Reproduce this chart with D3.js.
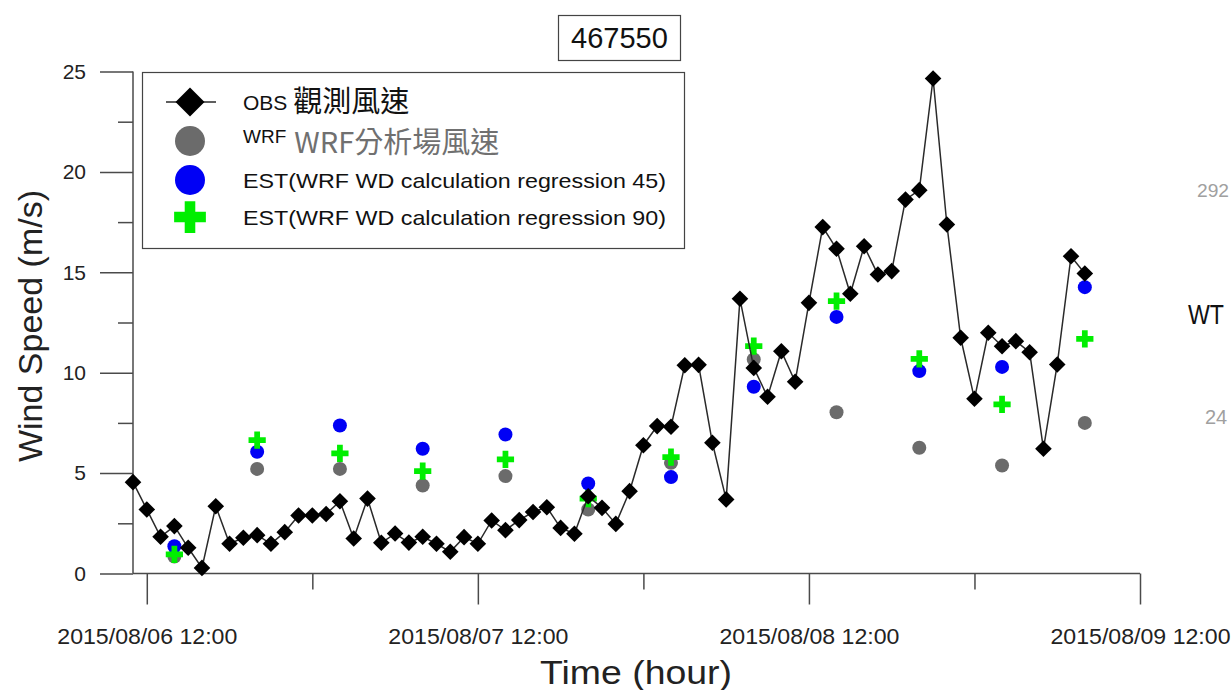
<!DOCTYPE html>
<html>
<head>
<meta charset="utf-8">
<script src="https://cdn.jsdelivr.net/npm/d3@7"></script>
<style>
  html, body { margin: 0; padding: 0; background: #fff; overflow: hidden; }
  svg { display: block; }
</style>
</head>
<body>
<svg id="chart" width="1231" height="690"></svg>
<script>
// Station 467550 — hourly observed wind speed and 6-hourly model estimates
const stationId = "467550";
const obsStart = new Date(2015, 7, 6, 11); // first hourly observation
const obsValues = [
  4.55, 3.19, 1.83, 2.36, 1.28, 0.28, 3.35, 1.48, 1.78, 1.91,
  1.48, 2.06, 2.89, 2.89, 2.96, 3.60, 1.74, 3.73, 1.53, 1.99,
  1.54, 1.83, 1.48, 1.08, 1.81, 1.48, 2.64, 2.16, 2.66, 3.06,
  3.30, 2.27, 1.98, 3.85, 3.27, 2.47, 4.10, 6.39, 7.34, 7.31,
  10.37, 10.39, 6.51, 3.69, 13.68, 10.24, 8.80, 11.07, 9.55, 13.48,
  17.25, 16.17, 13.93, 16.30, 14.89, 15.06, 18.62, 19.09, 24.65, 17.38,
  11.74, 8.70, 11.99, 11.32, 11.57, 11.02, 6.21, 10.41, 15.80, 14.94
];
const modelTimes = [
  "2015-08-06 14:00", "2015-08-06 20:00", "2015-08-07 02:00", "2015-08-07 08:00",
  "2015-08-07 14:00", "2015-08-07 20:00", "2015-08-08 02:00", "2015-08-08 08:00",
  "2015-08-08 14:00", "2015-08-08 20:00", "2015-08-09 02:00", "2015-08-09 08:00"
];
const wrfValues   = [0.85, 5.21, 5.21, 4.38, 4.85, 3.19, 5.51, 10.66, 8.03, 6.26, 5.38, 7.50];
const est45Values = [1.36, 6.06, 7.37, 6.21, 6.92, 4.48, 4.80, 9.30, 12.78, 10.08, 10.29, 14.26];
const est90Values = [0.95, 6.64, 5.98, 5.10, 5.68, 3.73, 5.79, 11.32, 13.56, 10.69, 8.42, 11.69];
const xTickLabels = ["2015/08/06 12:00", "2015/08/07 12:00", "2015/08/08 12:00", "2015/08/09 12:00"];
const yTicks = [0, 5, 10, 15, 20, 25];
const legendLabels = [
  { small: "OBS", big: "觀測風速" },
  { small: "WRF", big: "WRF分析場風速" },
  { small: "EST(WRF WD calculation regression 45)", big: "" },
  { small: "EST(WRF WD calculation regression 90)", big: "" }
];
const edgeLabels = ["292", "WT", "24"];

const parseTime = d3.timeParse("%Y-%m-%d %H:%M");
const parseTick = d3.timeParse("%Y/%m/%d %H:%M");
const obs = obsValues.map((v, i) => ({ t: d3.timeHour.offset(obsStart, i), v }));
const model = modelTimes.map((s, i) => ({
  t: parseTime(s), wrf: wrfValues[i], e45: est45Values[i], e90: est90Values[i]
}));

const svg = d3.select("#chart");
const FONT = "'Liberation Sans', Arial, sans-serif";
const CJK = "'Noto Sans CJK TC', 'Noto Sans CJK SC', sans-serif";
const AXIS = "#4a4a4a";

const x = d3.scaleTime()
  .domain([new Date(2015, 7, 6, 11), new Date(2015, 7, 9, 12)])
  .range([133, 1140]);
const y = d3.scaleLinear().domain([0, 25]).range([573.5, 71.5]);

// Axes: long major ticks, short minor ticks, all pointing outward
const yMajor = d3.axisLeft(y).tickValues(yTicks).tickSize(33).tickPadding(14);
const yMinor = d3.axisLeft(y).tickValues(d3.range(2.5, 25, 5)).tickSize(15).tickFormat("");
const gy = svg.append("g").attr("transform", "translate(133,0)").call(yMajor);
svg.append("g").attr("transform", "translate(133,0)").call(yMinor)
  .call(g => g.select(".domain").remove());
gy.selectAll("text").attr("font-family", FONT).attr("font-size", 21).attr("fill", "#222");

const tickDates = xTickLabels.map(parseTick);
const minorDates = tickDates.slice(0, -1).map(d => d3.timeHour.offset(d, 12));
const xMajor = d3.axisBottom(x).tickValues(tickDates).tickSize(31).tickPadding(24)
  .tickFormat((d, i) => xTickLabels[i]);
const xMinor = d3.axisBottom(x).tickValues(minorDates).tickSize(16).tickFormat("");
const gx = svg.append("g").attr("transform", "translate(0,573.5)").call(xMajor);
svg.append("g").attr("transform", "translate(0,573.5)").call(xMinor)
  .call(g => g.select(".domain").remove());
gx.selectAll("text").attr("font-family", FONT).attr("font-size", 22).attr("fill", "#222")
  .attr("textLength", 180).attr("lengthAdjust", "spacingAndGlyphs");

svg.selectAll(".domain, .tick line").attr("stroke", AXIS).attr("stroke-width", 1.5);
// axis baselines drawn without the end caps
gy.select(".domain").attr("d", `M0,${y(0)}V${y(25)}`);
gx.select(".domain").attr("d", `M133,0H1140`);

// Axis titles
svg.append("text")
  .attr("transform", "translate(42,326) rotate(-90)")
  .attr("text-anchor", "middle")
  .attr("font-family", FONT).attr("font-size", 34).attr("fill", "#222")
  .text("Wind Speed (m/s)");
svg.append("text")
  .attr("x", 636).attr("y", 684)
  .attr("text-anchor", "middle")
  .attr("font-family", FONT).attr("font-size", 33).attr("fill", "#222")
  .attr("textLength", 192).attr("lengthAdjust", "spacingAndGlyphs")
  .text("Time (hour)");

// Station title box
svg.append("rect").attr("x", 558.5).attr("y", 15.5).attr("width", 122).attr("height", 45)
  .attr("fill", "#fff").attr("stroke", "#444").attr("stroke-width", 1.2);
svg.append("text").attr("x", 619.5).attr("y", 48)
  .attr("text-anchor", "middle").attr("font-family", FONT).attr("font-size", 29).attr("fill", "#111")
  .text(stationId);

// Symbols
const diamond = d3.symbol().type(d3.symbolSquare);
const cross = d3.symbol().type(d3.symbolCross);
const GRAY = "#6b6b6b", BLUE = "#0000f5", GREEN = "#00ee00";

// Model estimates (behind the observation line)
const plot = svg.append("g");
plot.selectAll("circle.wrf").data(model).join("circle").attr("class", "wrf")
  .attr("cx", d => x(d.t)).attr("cy", d => y(d.wrf)).attr("r", 7).attr("fill", GRAY);
plot.selectAll("circle.e45").data(model).join("circle").attr("class", "e45")
  .attr("cx", d => x(d.t)).attr("cy", d => y(d.e45)).attr("r", 7).attr("fill", BLUE);
plot.selectAll("path.e90").data(model).join("path").attr("class", "e90")
  .attr("d", cross.size(165)())
  .attr("transform", d => `translate(${x(d.t)},${y(d.e90)})`)
  .attr("fill", GREEN);

// Observed line with diamond markers
plot.append("path").datum(obs)
  .attr("d", d3.line().x(d => x(d.t)).y(d => y(d.v)))
  .attr("fill", "none").attr("stroke", "#2a2a2a").attr("stroke-width", 1.5);
plot.selectAll("path.obs").data(obs).join("path").attr("class", "obs")
  .attr("d", diamond.size(138)())
  .attr("transform", d => `translate(${x(d.t)},${y(d.v)}) rotate(45)`)
  .attr("fill", "#000");

// Legend
const lg = svg.append("g");
lg.append("rect").attr("x", 142.5).attr("y", 72.5).attr("width", 542).attr("height", 176)
  .attr("fill", "#fff").attr("stroke", "#444").attr("stroke-width", 1.2);
const rowY = [102, 141, 180, 217];
const sx = 190;
lg.append("line").attr("x1", 166).attr("x2", 216).attr("y1", rowY[0]).attr("y2", rowY[0])
  .attr("stroke", "#2a2a2a").attr("stroke-width", 1.5);
lg.append("path").attr("d", diamond.size(420)())
  .attr("transform", `translate(${sx},${rowY[0]}) rotate(45)`).attr("fill", "#000");
lg.append("circle").attr("cx", sx).attr("cy", rowY[1]).attr("r", 15).attr("fill", GRAY);
lg.append("circle").attr("cx", sx).attr("cy", rowY[2]).attr("r", 15).attr("fill", BLUE);
lg.append("path").attr("d", cross.size(560)())
  .attr("transform", `translate(${sx},${rowY[3]})`).attr("fill", GREEN);

const t0 = lg.append("text").attr("x", 243).attr("y", rowY[0] + 8)
  .attr("font-family", FONT).attr("font-size", 21).attr("fill", "#111");
t0.append("tspan").text(legendLabels[0].small);
t0.append("tspan").attr("dx", 6).attr("font-family", CJK).attr("font-size", 29)
  .attr("dy", 2).text(legendLabels[0].big);

const t1 = lg.append("text").attr("x", 243).attr("y", rowY[1] + 2)
  .attr("font-family", FONT).attr("font-size", 19).attr("fill", "#111");
t1.append("tspan").text(legendLabels[1].small);
t1.append("tspan").attr("dx", 8).attr("dy", 10).attr("font-family", CJK).attr("font-size", 29)
  .attr("fill", "#707070").text(legendLabels[1].big);

[2, 3].forEach(i => {
  lg.append("text").attr("x", 243).attr("y", rowY[i] + 8)
    .attr("font-family", FONT).attr("font-size", 21).attr("fill", "#111")
    .attr("textLength", 423).attr("lengthAdjust", "spacingAndGlyphs")
    .text(legendLabels[i].small);
});

// Edge of the neighbouring panel
const edge = svg.append("g").attr("font-family", FONT);
edge.append("text").attr("x", 1197).attr("y", 197).attr("font-size", 19).attr("fill", "#a0a0a0")
  .attr("textLength", 32).attr("lengthAdjust", "spacingAndGlyphs").text(edgeLabels[0]);
edge.append("text").attr("x", 1188).attr("y", 324).attr("font-size", 28).attr("fill", "#111")
  .attr("textLength", 36).attr("lengthAdjust", "spacingAndGlyphs").text(edgeLabels[1]);
edge.append("text").attr("x", 1205).attr("y", 424).attr("font-size", 20).attr("fill", "#a0a0a0").text(edgeLabels[2]);
</script>
</body>
</html>
